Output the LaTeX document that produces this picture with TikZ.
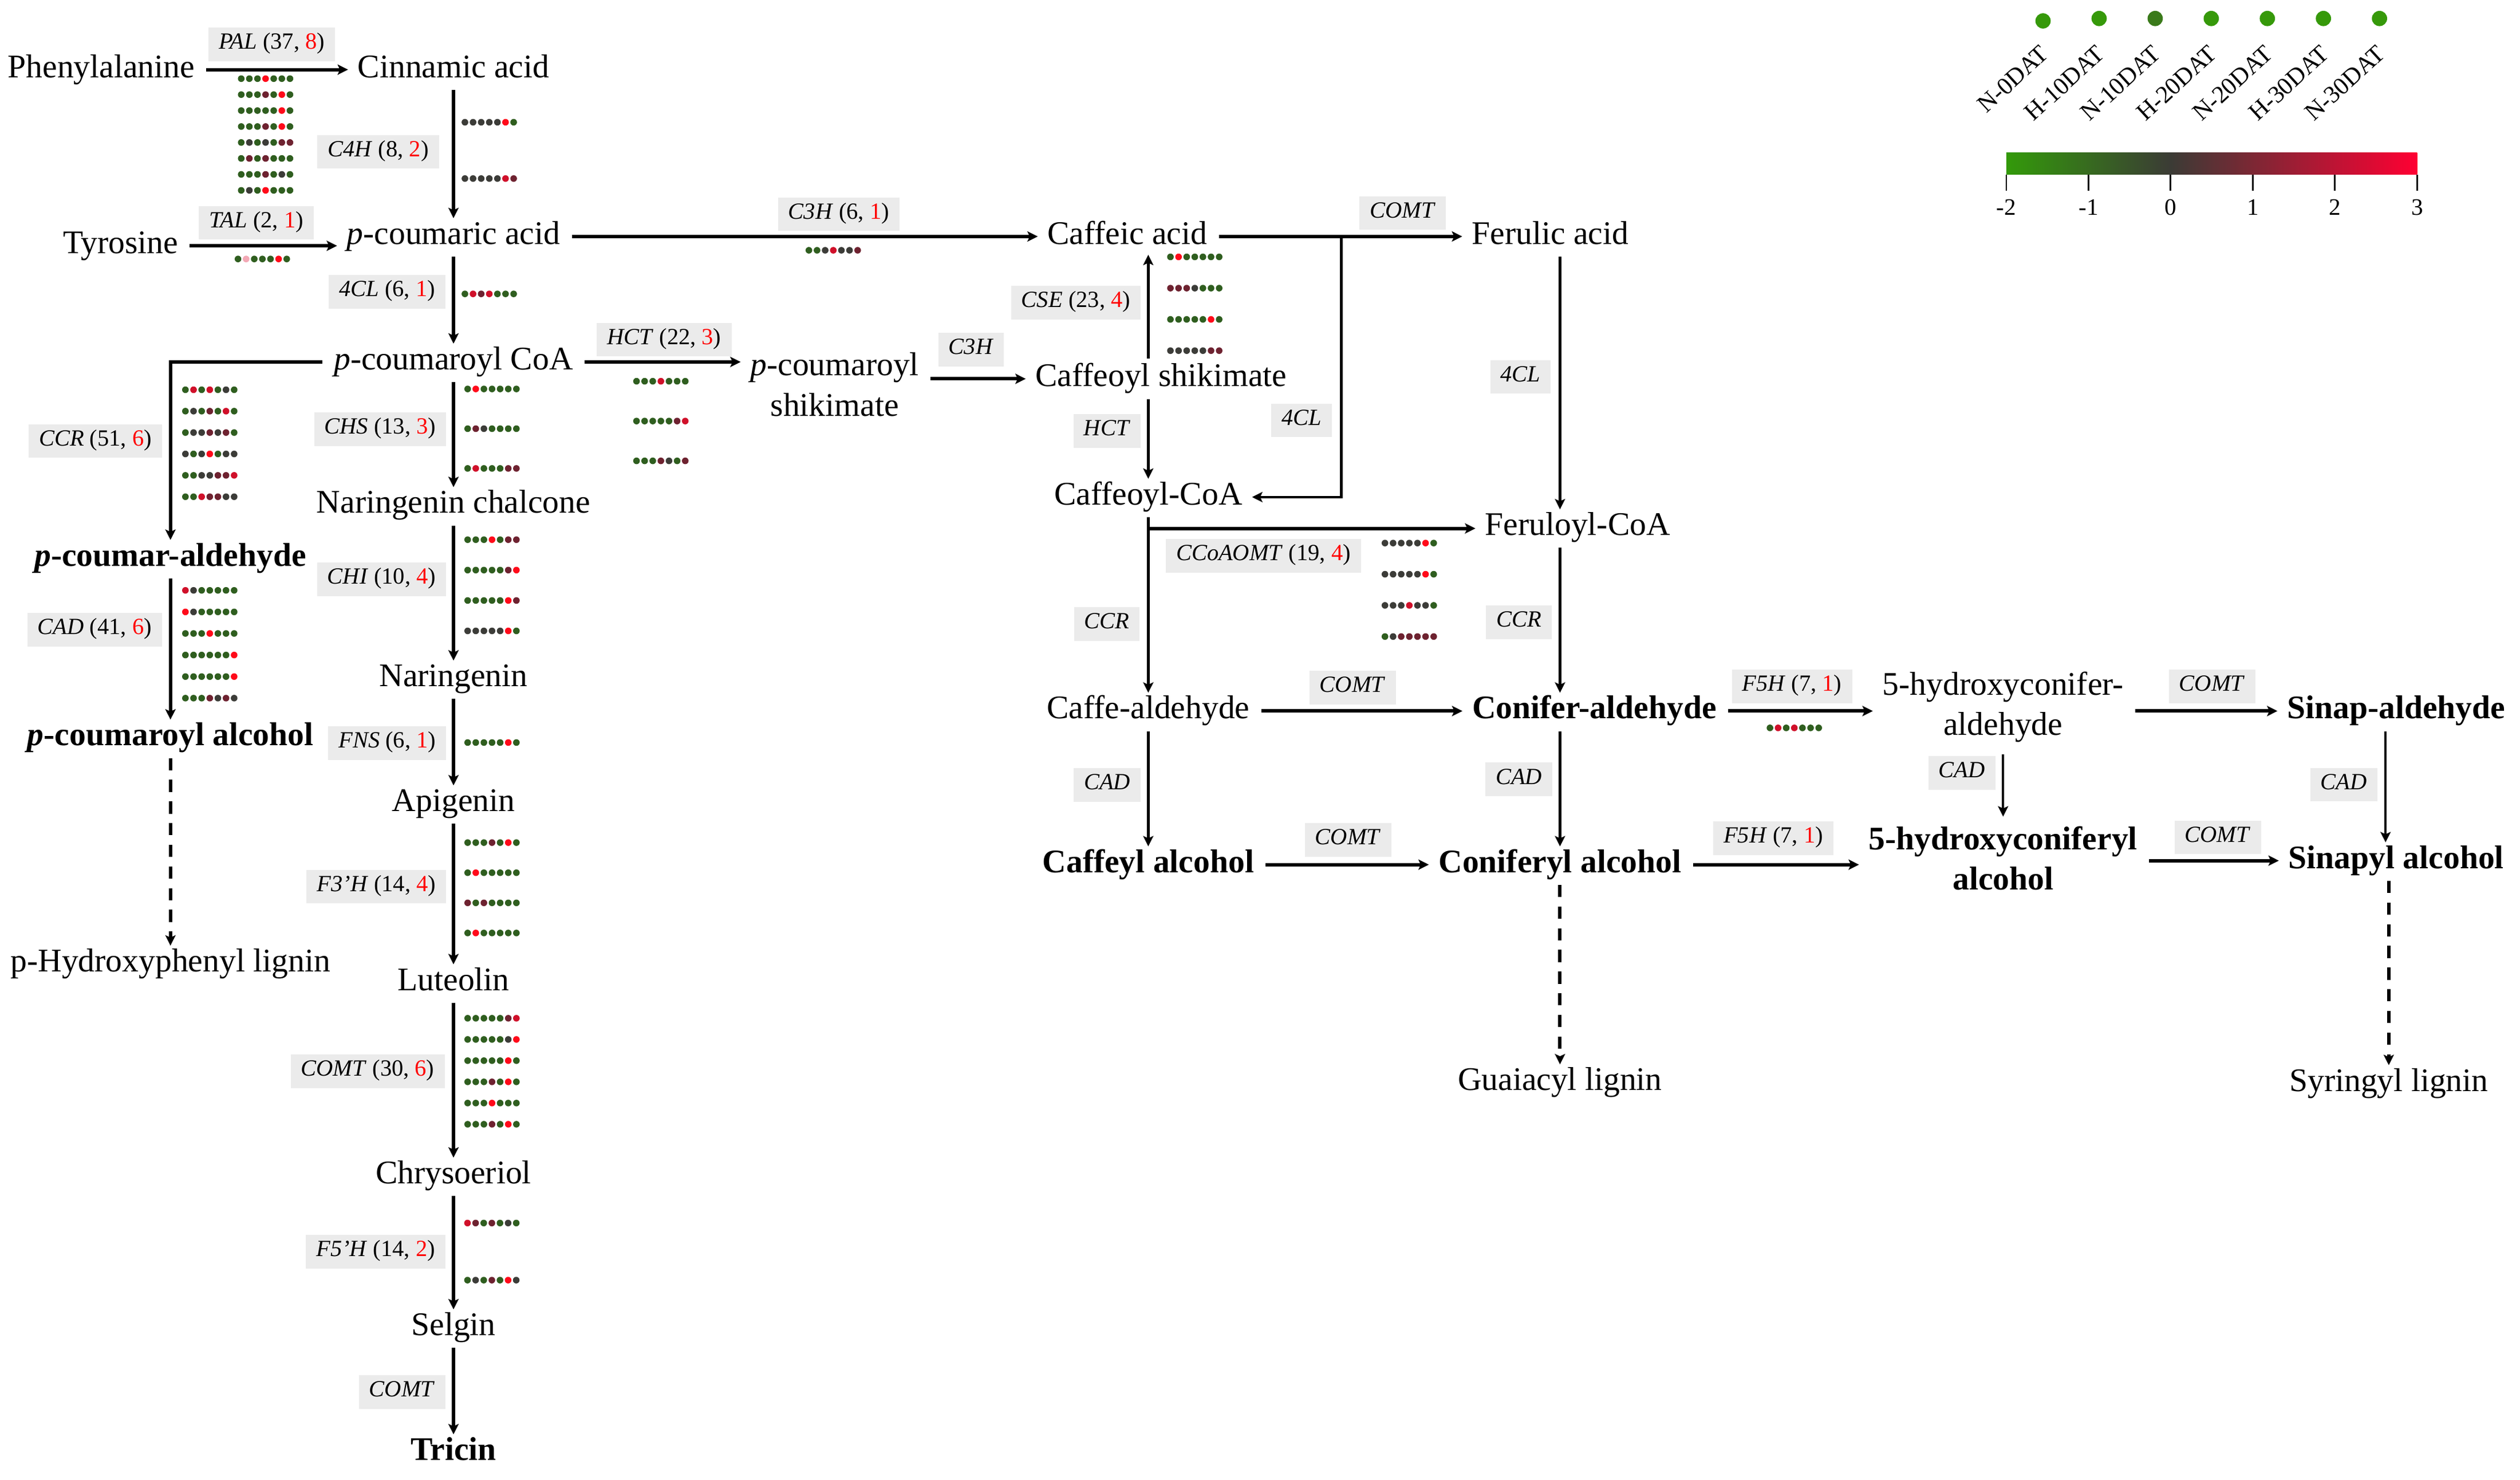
\documentclass[tikz,border=0pt]{standalone}
\usepackage{fontspec}
\setmainfont{Liberation Serif}
\usetikzlibrary{arrows.meta,positioning}

\definecolor{hmg}{HTML}{2F5E1F}
\definecolor{hmk}{HTML}{3C3C38}
\definecolor{hmm}{HTML}{6E2230}
\definecolor{hmr}{HTML}{D0102A}
\definecolor{hmR}{HTML}{FF0A1A}
\definecolor{hmp}{HTML}{F3A8B5}
\definecolor{leggreen}{HTML}{36990A}
\definecolor{legdark}{HTML}{3A7A1A}
\definecolor{enzgray}{HTML}{EBEBEB}
\definecolor{barG}{HTML}{339A0A}
\definecolor{barK}{HTML}{3B3B35}
\definecolor{barR}{HTML}{FF0033}
\pgfdeclarehorizontalshading{heatbar}{100bp}{color(0bp)=(barG); color(25bp)=(barG); color(45bp)=(barK); color(75bp)=(barR); color(100bp)=(barR)}

\newcommand{\molfont}{\fontsize{17.5}{21.3}\selectfont}
\newcommand{\enzfont}{\fontsize{12.3}{14}\selectfont}
\newcommand{\legfont}{\fontsize{13}{15}\selectfont}
\newcommand{\tickfont}{\fontsize{12.5}{14}\selectfont}
% one block of heat map rows: x, y of first row, row step, rows
\newcommand{\heatmap}[4]{%
  \foreach \r [count=\j from 0] in {#4} {
    \foreach \c [count=\i from 0] in \r
      \fill[fill=hm\c] (#1+5.05*\i,#2+#3*\j) circle [radius=.062cm];
  }}

\begin{document}
\begin{tikzpicture}[x=0.03cm,y=-0.03cm,->,>={Stealth[length=5.5pt,width=5.4pt,inset=1.2pt]},shorten >=1pt,shorten <=2pt,auto,node distance=2cm,line width=1.8pt,
  met/.style={font=\molfont,text height=.86em,text depth=.04em,inner sep=3.3pt},
  metb/.style={met,font=\molfont\bfseries},
  two/.style={font=\molfont,align=center,inner sep=3.3pt},
  twob/.style={two,font=\molfont\bfseries},
  enz/.style={fill=enzgray,font=\enzfont,text height=.75em,text depth=.25em,inner xsep=5.5pt,inner ysep=3.9pt},
  slim/.style={line width=1.3pt},
  lignin/.style={dashed,dash pattern=on 6.5pt off 5pt},
  leg/.style={font=\legfont,rotate=42.5,anchor=east,inner sep=1pt},
  bartick/.style={-,shorten <=0pt,shorten >=0pt,line width=.9pt}]
\useasboundingbox (0,0) rectangle (1567,919.7);

% flavonoid column
\node[met] (cin) at (282,43.3) {Cinnamic acid};
\node[met] (phe) [left of=cin, node distance=6.57cm] {Phenylalanine};
\node[met] (pca) [below of=cin, node distance=3.111cm] {\textit{p}-coumaric acid};
\node[met] (tyr) [left of=pca, node distance=6.21cm, yshift=-0.174cm] {Tyrosine};
\node[met] (pcoa) [below of=pca, node distance=2.34cm] {\textit{p}-coumaroyl CoA};
\node[met] (nch) [below of=pcoa, node distance=2.676cm] {Naringenin chalcone};
\node[met] (nar) [below of=nch, node distance=3.234cm] {Naringenin};
\node[met] (api) [below of=nar, node distance=2.328cm] {Apigenin};
\node[met] (lut) [below of=api, node distance=3.336cm] {Luteolin};
\node[met] (chr) [below of=lut, node distance=3.606cm] {Chrysoeriol};
\node[met] (sel) [below of=chr, node distance=2.829cm] {Selgin};
\node[metb] (tri) [below of=sel, node distance=2.331cm] {Tricin};

% H lignin
\node[metb] (pcald) [left of=pcoa, node distance=5.28cm, yshift=-3.66cm] {\textit{p}-coumar-aldehyde};
\node[metb] (pcalc) [below of=pcald, node distance=3.351cm] {\textit{p}-coumaroyl alcohol};
\node[met] (phl) [below of=pcalc, node distance=4.215cm] {p-Hydroxyphenyl lignin};

% G and S lignin
\node[two] (pcs) [right of=pcoa, node distance=7.11cm, yshift=-0.42cm] {\textit{p}-coumaroyl\\shikimate};
\node[met] (caf) [right of=pca, node distance=12.57cm] {Caffeic acid};
\node[met] (fer) [right of=caf, node distance=7.89cm] {Ferulic acid};
\node[met] (cfs) [right of=pcs, node distance=6.09cm, yshift=0.105cm] {Caffeoyl shikimate};
\node[met] (cco) [below of=cfs, node distance=2.205cm, xshift=-0.24cm] {Caffeoyl-CoA};
\node[met] (fco) [right of=cco, node distance=8.01cm, yshift=-0.57cm] {Feruloyl-CoA};
\node[met] (cald) [below of=cco, node distance=3.99cm] {Caffe-aldehyde};
\node[metb] (calc) [below of=cald, node distance=2.865cm] {Caffeyl alcohol};
\node[metb] (conald) [right of=cald, node distance=8.32cm] {Conifer-aldehyde};
\node[metb] (conalc) [right of=calc, node distance=7.68cm] {Coniferyl alcohol};
\node[met] (gua) [below of=conalc, node distance=4.065cm] {Guaiacyl lignin};
\node[two] (hcald) [right of=conald, node distance=7.626cm, yshift=0.07cm] {5-hydroxyconifer-\\aldehyde};
\node[twob] (hcalc) [below of=hcald, node distance=2.815cm] {5-hydroxyconiferyl\\alcohol};
\node[metb] (sald) [right of=conald, node distance=14.96cm] {Sinap-aldehyde};
\node[metb] (salc) [below of=sald, node distance=2.79cm] {Sinapyl alcohol};
\node[met] (syr) [below of=salc, node distance=4.155cm, xshift=-0.14cm] {Syringyl lignin};

\coordinate (br1) at (834,147);
\coordinate (br2) at (714,328.5);

\path (phe) edge node[enz,above=3.6pt,pos=.47] {\textit{PAL} (37, \textcolor{red}{8})} (cin)
      (cin) edge node[enz,left=6.8pt,pos=.49] {\textit{C4H} (8, \textcolor{red}{2})} (pca)
      (tyr) edge node[enz,above=2.4pt,pos=.46] {\textit{TAL} (2, \textcolor{red}{1})} (tyr -| pca.west)
      (pca) edge node[enz,left=3.4pt,pos=.42] {\textit{4CL} (6, \textcolor{red}{1})} (pcoa)
      (pca) edge node[enz,above=2pt,pos=.574] {\textit{C3H} (6, \textcolor{red}{1})} (caf)
      (caf) edge node[enz,above=2.6pt,pos=.753] {\textit{COMT}} (fer)
      (pcoa) edge node[enz,above=2pt,pos=.515] {\textit{HCT} (22, \textcolor{red}{3})} (pcoa -| pcs.west)
      (pcs.east |- cfs) edge node[enz,above=5.6pt,pos=.44] {\textit{C3H}} (cfs)
      (pcoa) edge node[enz,left=3pt,pos=.46] {\textit{CHS} (13, \textcolor{red}{3})} (nch)
      (nch) edge node[enz,left=3pt,pos=.41] {\textit{CHI} (10, \textcolor{red}{4})} (nar)
      (nar) edge node[enz,left=3pt,pos=.52] {\textit{FNS} (6, \textcolor{red}{1})} (api)
      (api) edge node[enz,left=3pt,pos=.456] {\textit{F3'H} (14, \textcolor{red}{4})} (lut)
      (lut) edge node[enz,left=3.8pt,pos=.45] {\textit{COMT} (30, \textcolor{red}{6})} (chr)
      (chr) edge node[enz,left=3.4pt,pos=.5] {\textit{F5'H} (14, \textcolor{red}{2})} (sel)
      (sel) edge node[enz,left=3.4pt,pos=.52] {\textit{COMT}} (tri)
      (pcald) edge node[enz,left=3.6pt,pos=.375] {\textit{CAD} (41, \textcolor{red}{6})} (pcalc)
      (pcalc) edge[lignin] (phl);

\draw (pcoa) -| node[enz,left=3.6pt,pos=.72] {\textit{CCR} (51, \textcolor{red}{6})} (pcald);
\draw[slim,shorten <=0pt] (br1) |- node[enz,left=4.2pt,pos=.353] {\textit{4CL}} (cco);

\path (cfs.north -| cco) edge[slim] node[enz,left=3.4pt,pos=.544] {\textit{CSE} (23, \textcolor{red}{4})} (caf.south -| cco)
      (cfs.south -| cco) edge[slim] node[enz,left=3.4pt,pos=.42] {\textit{HCT}} (cco)
      (fer.south -| conalc) edge[slim] node[enz,left=4.2pt,pos=.48] {\textit{4CL}} (fco.north -| conalc)
      (cco) edge[slim] node[enz,left=3.9pt,pos=.61] {\textit{CCR}} (cald)
      (br2) edge[shorten <=0pt] node[enz,below=4.7pt,pos=.35] {\textit{CCoAOMT} (19, \textcolor{red}{4})} (br2 -| fco.west)
      (fco.south -| conalc) edge[slim] node[enz,left=3.7pt,pos=.52] {\textit{CCR}} (conald.north -| conalc)
      (cald) edge node[enz,above=2.7pt,pos=.46] {\textit{COMT}} (conald)
      (cald) edge[slim] node[enz,left=3.4pt,pos=.475] {\textit{CAD}} (calc)
      (conald.south -| conalc) edge[slim] node[enz,left=3.4pt,pos=.43] {\textit{CAD}} (conalc)
      (calc) edge node[enz,above=3.4pt,pos=.51] {\textit{COMT}} (conalc)
      (conalc) edge[lignin] (gua)
      (conald) edge node[enz,above=3.2pt,pos=.45] {\textit{F5H} (7, \textcolor{red}{1})} (conald -| hcald.west)
      (hcald.east |- sald) edge node[enz,above=3.2pt,pos=.545] {\textit{COMT}} (sald)
      (hcald) edge[slim] node[enz,left=3.4pt,pos=.33] {\textit{CAD}} (hcalc)
      ([xshift=-0.2cm]sald.south) edge[slim] node[enz,left=3.7pt,pos=.49] {\textit{CAD}} ([xshift=-0.2cm]salc.north)
      (conalc) edge node[enz,above=4.2pt,pos=.49] {\textit{F5H} (7, \textcolor{red}{1})} (conalc -| hcalc.west)
      (hcalc.east |- salc) edge node[enz,above=2.5pt,pos=.535] {\textit{COMT}} (salc)
      (salc.south -| syr) edge[lignin] (syr);

% heat maps of the DEGs
\heatmap{150}{48.9}{9.92}{{g,g,g,R,g,g,g},{g,g,g,m,g,R,g},{g,g,g,g,g,R,g},{g,g,g,m,g,R,g},{g,k,g,k,g,m,m},{g,m,g,m,g,g,g},{g,g,g,m,g,k,g},{g,k,g,R,g,g,g}}
\heatmap{289.1}{76}{35}{{k,k,k,k,k,R,g},{k,k,k,k,k,r,m}}
\heatmap{148}{161}{0}{{g,p,g,g,g,R,g}}
\heatmap{289.1}{182.7}{0}{{g,r,m,r,g,g,g}}
\heatmap{503}{155.6}{0}{{g,g,k,r,k,k,m}}
\heatmap{727.8}{159.7}{19.43}{{g,R,g,g,g,g,g},{m,m,m,k,g,g,g},{g,g,g,g,g,R,g},{k,k,k,k,k,m,m}}
\heatmap{395.8}{237}{24.75}{{g,g,g,r,g,g,g},{g,g,g,g,g,m,r},{g,g,g,m,k,g,m}}
\heatmap{115.3}{242.3}{13.3}{{g,r,g,r,g,k,g},{g,k,g,m,g,r,g},{g,k,k,m,k,m,g},{k,g,k,R,g,k,k},{g,g,k,k,m,m,r},{g,g,r,m,m,k,k}}
\heatmap{290.8}{241.8}{24.7}{{g,R,g,g,g,g,g},{g,m,k,g,g,g,g},{g,r,g,g,g,m,m}}
\heatmap{290.8}{335.5}{18.9}{{g,g,g,R,g,m,m},{g,g,g,g,g,m,R},{g,g,g,g,g,R,m},{k,k,k,k,k,R,g}}
\heatmap{115.3}{367}{13.4}{{r,k,g,g,g,g,g},{R,k,g,g,g,g,g},{g,g,g,R,g,g,g},{g,g,g,g,g,g,R},{g,g,g,g,g,g,R},{g,g,g,m,k,m,k}}
\heatmap{290.8}{461.6}{0}{{g,g,g,g,g,R,g}}
\heatmap{290.8}{523.8}{18.73}{{g,g,g,m,g,R,g},{g,R,g,g,g,g,g},{m,g,m,g,g,g,g},{g,R,g,g,g,g,g}}
\heatmap{290.8}{633}{13.18}{{g,g,g,g,g,m,r},{g,g,g,g,g,k,R},{g,g,g,g,g,R,g},{g,g,g,m,g,R,g},{g,g,g,R,g,g,g},{g,g,g,m,g,R,g}}
\heatmap{290.7}{760.3}{35.5}{{r,m,g,m,g,k,g},{g,k,g,m,g,R,k}}
\heatmap{861.2}{337.6}{19.37}{{k,k,k,k,k,R,g},{k,k,k,k,k,R,g},{k,k,k,r,k,k,g},{g,k,m,m,m,m,m}}
\heatmap{1100.6}{452.5}{0}{{g,r,g,r,g,g,g}}

% legend
\foreach \col/\yy [count=\i from 0] in {leggreen/13,leggreen/11.5,legdark/11.5,leggreen/11.5,leggreen/11.5,leggreen/11.5,leggreen/11.5}
  \fill[fill=\col] (1270.4+34.87*\i,\yy) circle [radius=.1425cm];
\foreach \lab [count=\i from 0] in {N-0DAT,H-10DAT,N-10DAT,H-20DAT,N-20DAT,H-30DAT,N-30DAT}
  \node[leg] (lab\i) at (1273+34.87*\i,29.5) {\lab};
\shade[shading=heatbar] (1247.6,95) rectangle (1503,108.6);
\foreach \v [count=\i from 0] in {-2,...,3} {
  \draw[bartick] (1247.6+51.08*\i,108.6) -- ++(0,10.1);
  \node[font=\tickfont] (tk\i) at (1247.6+51.08*\i,128.8) {\v};
}

\end{tikzpicture}
\end{document}
